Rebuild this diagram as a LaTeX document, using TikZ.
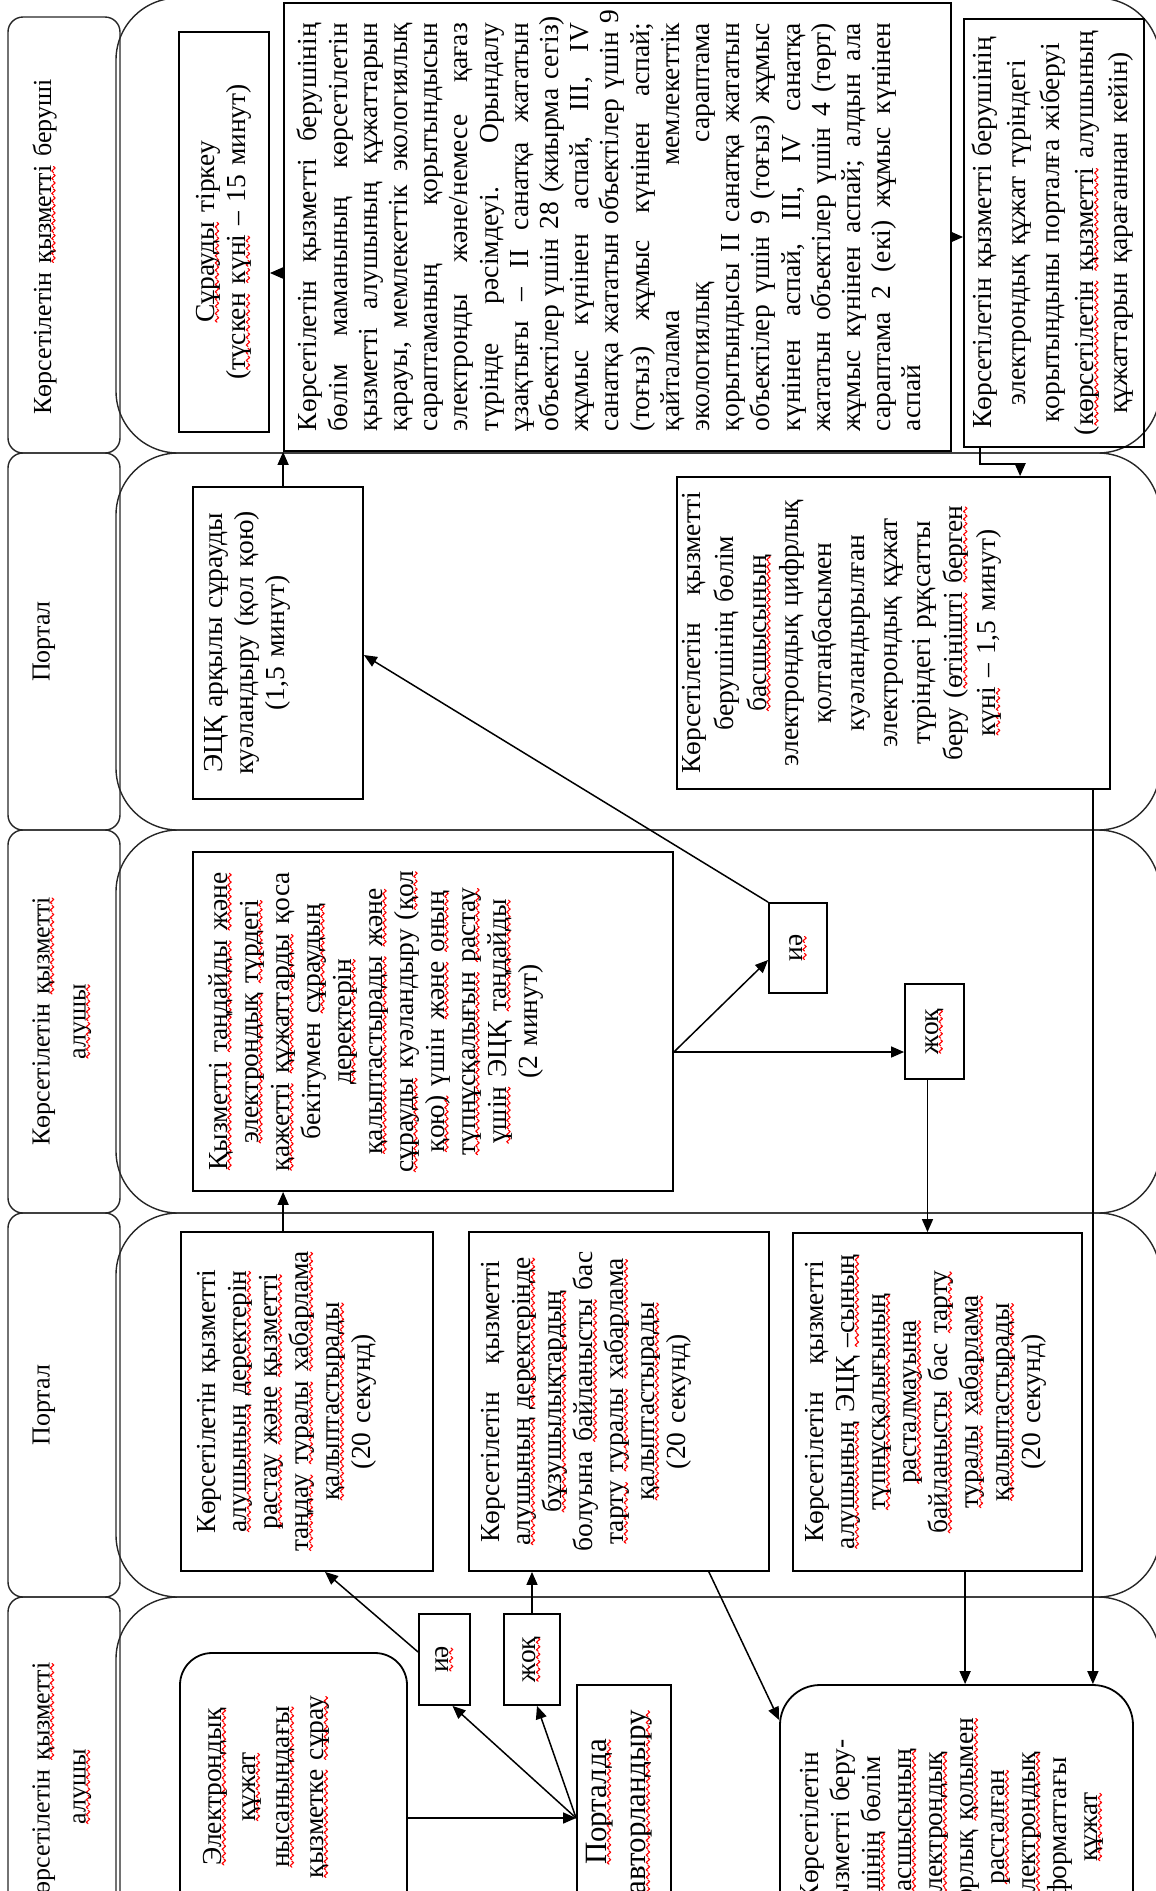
\documentclass[tikz,border=0pt]{standalone}
\usepackage{fontspec}
\setmainfont{Liberation Serif}
\usetikzlibrary{arrows.meta,fit}
\newcommand\jl[1]{\makebox[408pt][l]{#1}}
\newcommand\hf{\hspace{0pt plus 1fill}}
\newsavebox\wavebox
\newsavebox\sqtmp
\newcommand\sq[1]{\sbox\sqtmp{#1}\leavevmode\rlap{\lower4.6pt\hbox to\wd\sqtmp{\xleaders\copy\wavebox\hfill}}\usebox\sqtmp}
\begin{document}
\sbox\wavebox{\begin{pgfpicture}\pgfsetlinewidth{1.1pt}\pgfsetstrokecolor{red}\pgfsetroundcap\pgfsetroundjoin
\pgfpathmoveto{\pgfpoint{0pt}{0pt}}\pgfpathlineto{\pgfpoint{1.5pt}{1.7pt}}\pgfpathlineto{\pgfpoint{3pt}{0pt}}\pgfpathlineto{\pgfpoint{4.5pt}{-1.7pt}}\pgfpathlineto{\pgfpoint{6pt}{0pt}}\pgfusepath{stroke}\end{pgfpicture}}%
\begin{tikzpicture}[x=1pt,y=-1pt,
  lane/.style={draw=black!85, line width=1.4pt, rounded corners=62pt, inner sep=0pt},
  lbl/.style={draw=black!85, line width=1.4pt, rounded corners=15pt, inner sep=0pt},
  box/.style={draw, line width=1.8pt, inner sep=0pt},
  txt/.style={rotate=90, inner sep=0pt, align=center, font=\fontsize{27.5}{31}\selectfont},
  lt/.style={txt, anchor=north, text width=400pt, font=\fontsize{26}{36}\selectfont},
  arr/.style={line width=1.5pt, -{Triangle[length=13pt,width=11pt]}}]
\useasboundingbox (0,0) rectangle (1156,1891);
\clip (0,0) rectangle (1156,1891);
% lanes
\node[lbl, fit={(8,17) (120,453)}] (L1) {};
\node[lbl, fit={(8,453) (120,830)}] (L2) {};
\node[lbl, fit={(8,830) (120,1213)}] (L3) {};
\node[lbl, fit={(8,1213) (120,1597)}] (L4) {};
\node[lbl, fit={(8,1597) (120,1977)}] (L5) {};
\node[lane, fit={(116,-2) (1160,453)}] (R1) {};
\node[lane, fit={(116,453) (1160,830)}] (R2) {};
\node[lane, fit={(116,830) (1160,1213)}] (R3) {};
\node[lane, fit={(116,1213) (1160,1597)}] (R4) {};
\node[lane, fit={(116,1597) (1160,1977)}] (R5) {};
\node[lt] (L1t) at ([xshift=25pt,yshift=-12pt]L1.west) {Көрсетілетін \sq{қызметті} беруші};
\node[lt] (L2t) at ([xshift=25pt]L2.west) {Портал};
\node[lt] (L3t) at ([xshift=25pt]L3.west) {Көрсетілетін \sq{қызметті}\\\sq{алушы}};
\node[lt] (L4t) at ([xshift=25pt]L4.west) {Портал};
\node[lt] (L5t) at ([xshift=25pt]L5.west) {Көрсетілетін \sq{қызметті}\\\sq{алушы}};
% boxes
\node[box, fit={(179,32) (269,432)}] (A) {};
\node[box, fit={(284,3) (951,451)}] (B) {};
\node[box, fit={(964,19) (1144,447)}] (C) {};
\node[box, fit={(193,487) (363,799)}] (D) {};
\node[box, fit={(677,477) (1110,789)}] (E) {};
\node[box, fit={(193,852) (673,1191)}] (F) {};
\node[box, fit={(769,903) (827,993)}] (G) {};
\node[box, fit={(905,984) (964,1079)}] (H) {};
\node[box, fit={(181,1232) (433,1571)}] (I) {};
\node[box, fit={(469,1232) (769,1571)}] (J) {};
\node[box, fit={(793,1233) (1082,1571)}] (K) {};
\node[box, fit={(419,1614) (470,1705)}] (P) {};
\node[box, fit={(504,1614) (560,1705)}] (Q) {};
\node[box, rounded corners=32pt, fit={(180,1653) (407,1921)}] (N) {};
\node[box, fit={(577,1685) (671,1919)}] (O) {};
\node[box, rounded corners=40pt, fit={(780,1685) (1133,1969)}] (M) {};
% texts
\node[txt, anchor=center, text width=390pt] (At) at (A.center) {\sq{Сұрауды} тіркеу\\(\sq{түскен} \sq{күні} – 15 минут)};
\node[txt, anchor=north, text width=408pt, align=left, font=\fontsize{27.5}{30.2}\selectfont] (Bt) at ([xshift=14pt]B.west) {%
\jl{Көрсетілетін\hf{} қызметті\hf{} берушінің}\\
\jl{бөлім\hf{} маманының\hf{} көрсетілетін}\\
\jl{қызметті\hf{} алушының\hf{} құжаттарын}\\
\jl{қарауы,\hf{} мемлекеттік\hf{} экологиялық}\\
\jl{сараптаманың\hf{} қорытындысын}\\
\jl{электронды\hf{} және/немесе\hf{} қағаз}\\
\jl{түрінде\hf{} рәсімдеуі.\hf{} Орындалу}\\
\jl{ұзақтығы\hf{} –\hf{} II\hf{} санатқа\hf{} жататын}\\
\jl{объектілер\hf{} үшін\hf{} 28\hf{} (жиырма\hf{} сегіз)}\\
\jl{жұмыс\hf{} күнінен\hf{} аспай,\hf{} III,\hf{} IV}\\
\jl{санатқа\hf{} жататын\hf{} объектілер\hf{} үшін\hf{} 9}\\
\jl{(тоғыз)\hf{} жұмыс\hf{} күнінен\hf{} аспай;}\\
\jl{қайталама\hf{} мемлекеттік}\\
\jl{экологиялық\hf{} сараптама}\\
\jl{қорытындысы\hf{} II\hf{} санатқа\hf{} жататын}\\
\jl{объектілер\hf{} үшін\hf{} 9\hf{} (тоғыз)\hf{} жұмыс}\\
\jl{күнінен\hf{} аспай,\hf{} III,\hf{} IV\hf{} санатқа}\\
\jl{жататын\hf{} объектілер\hf{} үшін\hf{} 4\hf{} (төрт)}\\
\jl{жұмыс\hf{} күнінен\hf{} аспай;\hf{} алдын\hf{} ала}\\
\jl{сараптама\hf{} 2\hf{} (екі)\hf{} жұмыс\hf{} күнінен}\\
аспай};
\node[txt, anchor=north, text width=420pt, font=\fontsize{27.5}{34}\selectfont] (Ct) at ([xshift=9pt]C.west) {Көрсетілетін қызметті берушінің\\электрондық құжат түріндегі\\қорытындыны порталға жіберуі\\(\sq{көрсетілетін} \sq{қызметті} алушының\\құжаттарын қарағаннан кейін)};
\node[txt, anchor=north, text width=300pt] (Dt) at ([xshift=12pt]D.west) {ЭЦҚ арқылы сұрауды\\куәландыру (қол қою)\\(1,5 минут)};
\node[txt, anchor=north, text width=300pt, font=\fontsize{27.5}{32.8}\selectfont] (Et) at ([xshift=6pt]E.west) {Көрсетілетін\ \ \ қызметті\\берушінің бөлім\\\sq{басшысының}\\электрондық цифрлық\\қолтаңбасымен\\куәландырылған\\электрондық құжат\\түріндегі рұқсатты\\беру (\sq{өтінішті} \sq{берген}\\\sq{күні} – 1,5 минут)};
\node[txt, anchor=north, text width=330pt] (Ft) at ([xshift=16pt]F.west) {\sq{Қызметті} \sq{таңдайды} \sq{және}\\\sq{электрондық} \sq{түрдегі}\\\sq{қажетті} \sq{құжаттарды} қоса\\бекітумен \sq{сұраудың}\\\sq{деректерін}\\\sq{қалыптастырады} \sq{және}\\\sq{сұрауды} куәландыру (\sq{қол}\\\sq{қою)} үшін \sq{және} \sq{оның}\\\sq{түпнұсқалығын} \sq{растау}\\\sq{үшін} ЭЦҚ \sq{таңдайды}\\(2 минут)};
\node[txt] (Gt) at (G.center) {\sq{иә}};
\node[txt] (Ht) at (H.center) {\sq{жоқ}};
\node[txt] (Pt) at (P.center) {\sq{иә}};
\node[txt] (Qt) at (Q.center) {\sq{жоқ}};
\node[txt, anchor=north, text width=330pt] (It) at ([xshift=17pt]I.west) {Көрсетілетін қызметті\\\sq{алушының} \sq{деректерін}\\\sq{растау} \sq{және} \sq{қызметті}\\\sq{таңдау} \sq{туралы} \sq{хабарлама}\\\sq{қалыптастырады}\\(20 секунд)};
\node[txt, anchor=north, text width=330pt] (Jt) at ([xshift=13pt]J.west) {Көрсетілетін\ \ \ қызметті\\\sq{алушының} \sq{деректерінде}\\\sq{бұзушылықтардың}\\болуына \sq{байланысты} бас\\\sq{тарту} \sq{туралы} \sq{хабарлама}\\\sq{қалыптастырады}\\(20 секунд)};
\node[txt, anchor=north, text width=330pt] (Kt) at ([xshift=13pt]K.west) {Көрсетілетін\ \ \ қызметті\\\sq{алушының} ЭЦҚ \sq{–сының}\\\sq{түпнұсқалығының}\\\sq{расталмауына}\\\sq{байланысты} бас \sq{тарту}\\\sq{туралы} \sq{хабарлама}\\\sq{қалыптастырады}\\(20 секунд)};
\node[txt, anchor=north, text width=270pt] (Mt) at ([xshift=21pt]M.west) {Көрсетілетін\\қызметті беру-\\\sq{шінің} бөлім\\\sq{басшысының}\\\sq{электрондық}\\цифрлық \sq{қолымен}\\\sq{расталған}\\\sq{электрондық}\\форматтағы\\\sq{құжат}};
\node[txt, anchor=north, text width=260pt, font=\fontsize{27.5}{34}\selectfont] (Nt) at ([xshift=24pt]N.west) {\sq{Электрондық}\\\sq{құжат}\\\sq{нысанындағы}\\\sq{қызметке} \sq{сұрау}};
\node[txt, anchor=north, text width=230pt, font=\fontsize{31}{39}\selectfont] (Ot) at ([xshift=10pt]O.west) {\sq{Порталда}\\\sq{авторландыру}};
% helper coordinates
\coordinate (yBA) at (0,273);
\coordinate (yBC) at (0,237);
\coordinate (yGD) at (0,655);
\coordinate (yFa) at (0,1052);
\coordinate (yFG) at (0,960);
\coordinate (yPI) at (0,1652);
\coordinate (xPI) at (325,0);
\coordinate (yO) at (0,1818);
\coordinate (yJM) at (0,1720);
% connectors
\draw[arr] (D.north -| B.west) -- (B.south west);
\draw[arr] (B.west |- yBA) -- (A.east |- yBA);
\draw[arr] (B.east |- yBC) -- (C.west |- yBC);
\draw[arr] ([xshift=17pt]C.south west) -- ++(0,16) -| ([xshift=344pt]E.north west);
\draw[arr] (G.north west) -- (D.east |- yGD);
\draw[arr] (F.east |- yFa) -- (G.west |- yFG);
\draw[arr] (F.east |- yFa) -- (H.west |- yFa);
\draw[arr] ([xshift=-7pt]H.south) -- ([xshift=-7pt]H.south |- K.north);
\draw[arr] (I.north -| B.west) -- (F.south -| B.west);
\draw[arr] (P.west |- yPI) -- (I.south -| xPI);
\draw[arr] (Q.north) -- (Q.north |- J.south);
\draw[arr] (N.east |- yO) -- (O.west |- yO);
\draw[arr] (O.west |- yO) -- ([xshift=8pt]P.south);
\draw[arr] (O.west |- yO) -- ([xshift=5pt]Q.south);
\draw[arr] ([xshift=-61pt]J.south east) -- (M.west |- yJM);
\draw[arr] ([xshift=173pt]K.south west) -- ([xshift=173pt]K.south west |- M.north);
\draw[arr] ([xshift=-18pt]E.south east) -- ([xshift=-18pt]E.south east |- M.north);
\end{tikzpicture}
\end{document}
